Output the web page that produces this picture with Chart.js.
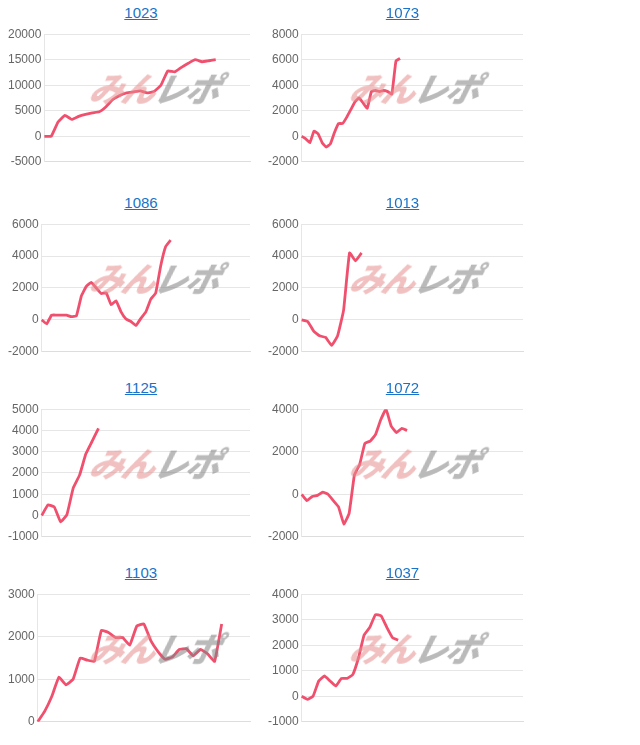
<!DOCTYPE html>
<html><head><meta charset="utf-8">
<script src="https://cdn.jsdelivr.net/npm/chart.js@4"></script>
<style>
body{margin:0;background:#fff;font-family:"Liberation Sans",Arial,sans-serif;width:640px;height:745px;overflow:hidden}
.cell{position:absolute;width:275px;height:185px}
.t{position:absolute;top:4px;left:0;width:100%;text-align:center;font-size:15px;color:#1a73c8;text-decoration:underline}
.c{position:absolute;top:24px;left:0;width:275px;height:148px}
.wm{position:absolute;top:63px;left:86px;font-size:34px;font-weight:900;font-style:italic;letter-spacing:-2px;pointer-events:none;font-family:"Noto Sans CJK JP";transform:skewX(-14deg)}
.wm .a{color:rgba(230,140,140,0.55)}.wm .b{color:rgba(130,130,130,0.55)}
</style></head><body>
<script>
const titles=["1023","1073","1086","1013","1125","1072","1103","1037"];
const counts=[31,55,43,38,34,43,31,40];
const s1023=[0,0,2800,4100,3300,3900,4300,4600,4800,5800,7200,8000,8500,8700,8900,8500,8800,10000,12800,12600,13500,14300,15000,14600,14800,15000];
const s1073=[0,-200,-500,400,200,-500,-850,-600,300,1000,1000,1500,2100,2700,3000,2600,2200,3500,3600,3500,3600,3500,3300,5900,6100];
const s1086=[0,-250,300,300,300,300,200,250,1500,2100,2350,2000,1650,1700,950,1200,500,50,-100,-350,100,500,1300,1700,3400,4600,5000];
const s1013=[0,-100,-700,-1000,-1100,-1600,-1000,600,4200,3700,4200];
const s1125=[0,500,400,-300,50,1300,1900,2900,3500,4100];
const s1072=[0,-300,-100,-50,100,0,-300,-600,-1400,-900,900,1400,2400,2500,2800,3500,4000,3200,2900,3100,3000];
const s1103=[0,250,600,1050,870,1000,1500,1450,1420,2150,2100,1980,1980,1800,2250,2300,1900,1650,1470,1520,1700,1720,1550,1700,1600,1420,2300];
const s1037=[0,-120,0,600,800,600,400,700,700,850,1500,2400,2700,3200,3150,2700,2300,2200];
const series=[s1023,s1073,s1086,s1013,s1125,s1072,s1103,s1037];
const yMin=[-5000,-2000,-2000,-2000,-1000,-2000,0,-1000];
const yMax=[20000,8000,6000,6000,5000,4000,3000,4000];
const ySteps=[5000,2000,2000,2000,1000,2000,1000,1000];
const rowTop=[0,190,375,560];
series.forEach((d,i)=>{
  const cell=document.createElement('div');cell.className='cell';
  const right=i%2===1;
  cell.style.left=(right?265:5)+'px';cell.style.top=rowTop[Math.floor(i/2)]+'px';
  cell.innerHTML='<div class="t">'+titles[i]+'</div><div class="c"><canvas></canvas></div><div class="wm"><span class="a">みん</span><span class="b">レポ</span></div>';
  if(!right){cell.querySelector('.t').style.width='272px';}
  document.body.appendChild(cell);
  const labels=Array.from({length:counts[i]},(_,k)=>String(k+1));
  new Chart(cell.querySelector('canvas'),{type:'line',
    data:{labels,datasets:[{data:d,borderColor:'#f0506e',borderWidth:2.8,pointRadius:0,tension:0.1,fill:false}]},
    options:{responsive:true,maintainAspectRatio:false,animation:false,
      layout:{padding:{right:right?17:30,top:2}},
      plugins:{legend:{display:false},tooltip:{enabled:false}},
      scales:{x:{ticks:{display:false},grid:{display:false},border:{color:'#ddd'}},
        y:{min:yMin[i],max:yMax[i],ticks:{stepSize:ySteps[i],color:'#666',font:{size:12,family:'Liberation Sans'},callback:v=>String(v)},
           grid:{color:'#e6e6e6',drawTicks:false},border:{display:true,color:'#e6e6e6'}}}}});
});
</script></body></html>
